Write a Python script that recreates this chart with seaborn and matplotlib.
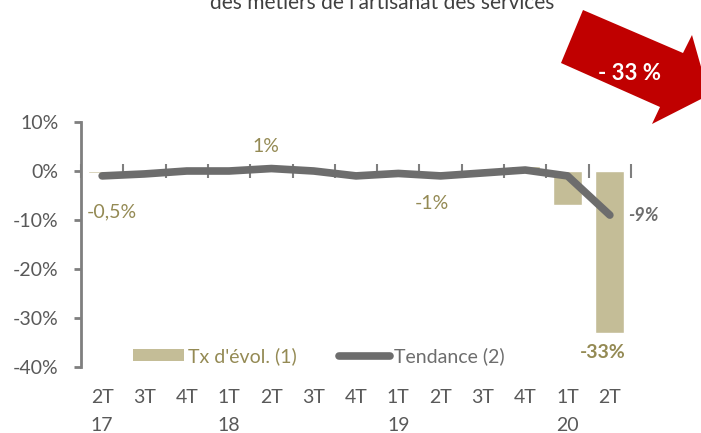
import numpy as np
import pandas as pd
import matplotlib
matplotlib.use("Agg")
import matplotlib.pyplot as plt
import matplotlib.transforms as mtransforms
from matplotlib.patches import Polygon, Patch
from matplotlib.lines import Line2D
import seaborn as sns

# ---- data ----
quarters = ["2T\n17", "3T", "4T", "1T\n18", "2T", "3T", "4T", "1T\n19", "2T", "3T", "4T", "1T\n20", "2T"]
taux_evol = [-0.5, 0.0, 0.0, 0.0, 1.0, 0.0, 0.0, 0.0, -1.0, 0.3, 1.0, -7.0, -33.0]
tendance = [-1.0, -0.6, 0.0, 0.0, 0.5, 0.0, -1.0, -0.5, -1.0, -0.4, 0.2, -1.0, -9.0]
bar_labels = {0: "-0,5%", 4: "1%", 8: "-1%"}
title_line = "des métiers de l'artisanat des services"

# colours
bar_col = "#C4BD97"
lbl_col = "#948A54"
line_col = "#6D6D6D"
tick_col = "#595959"
axis_col = "#7F7F7F"
red = "#C00000"

df = pd.DataFrame({"pos": np.arange(len(quarters)), "q": quarters,
                   "tx": taux_evol, "tend": tendance})

sns.set_style("white")
plt.rcParams["font.family"] = ["Lato", "DejaVu Sans"]

W, H = 701, 433
fig = plt.figure(figsize=(W / 100, H / 100), dpi=100)
ax = fig.add_axes([81 / W, (H - 367) / H, 550 / W, 245 / H])

sns.barplot(data=df, x="pos", y="tx", color=bar_col, saturation=1, width=0.68, ax=ax)
sns.lineplot(data=df, x="pos", y="tend", color=line_col, linewidth=5.5,
             solid_capstyle="round", ax=ax, zorder=5)

ax.set_xlim(-0.5, len(quarters) - 0.5)
ax.set_ylim(-40, 10)
ax.set_yticks(np.arange(-40, 11, 10))
ax.set_yticklabels([f"{v}%" for v in range(-40, 11, 10)], fontsize=14, color=tick_col)
ax.set_xticks(df["pos"])
ax.set_xticklabels(quarters, fontsize=14, color=tick_col, linespacing=1.75, va="top")
ax.tick_params(axis="x", length=0, pad=16)
ax.tick_params(axis="y", left=True, length=5, width=2, color=axis_col, direction="out", pad=11)
ax.set_xlabel("")
ax.set_ylabel("")
for s in ["top", "right", "bottom"]:
    ax.spines[s].set_visible(False)
ax.spines["left"].set_color(axis_col)
ax.spines["left"].set_linewidth(2)

# zero line with category boundary ticks
sec = ax.secondary_xaxis(40 / 50)
sec.set_xticks(np.arange(-0.5, len(quarters), 1.0))
sec.set_xticklabels([])
sec.tick_params(axis="x", bottom=True, direction="out", length=5, width=1.5, color=axis_col)
sec.spines["bottom"].set_color(axis_col)
sec.spines["bottom"].set_linewidth(1.5)
for s in ["top", "left", "right"]:
    sec.spines[s].set_visible(False)

# data labels
offsets = {0: (7, -28), 4: (-4, 14), 8: (-6, -20)}
for i, txt in bar_labels.items():
    ax.annotate(txt, (i, taux_evol[i]), xytext=offsets[i], textcoords="offset points",
                ha="center", va="center", fontsize=14, color=lbl_col)
last = len(quarters) - 1
ax.annotate(f"{taux_evol[last]:.0f}%", (last, taux_evol[last]), xytext=(-5, -14),
            textcoords="offset points", ha="center", va="center", fontsize=14,
            color=lbl_col, fontweight="bold")
ax.annotate(f"{tendance[last]:.0f}%", (last, tendance[last]), xytext=(24, 0),
            textcoords="offset points", ha="center", va="center", fontsize=13,
            color=line_col, fontweight="bold", style="italic")

# legend
handles = [Patch(facecolor=bar_col, edgecolor="none"),
           Line2D([], [], color=line_col, linewidth=5.5, solid_capstyle="round")]
leg = ax.legend(handles, ["Tx d'évol. (1)", "Tendance (2)"], ncol=2, frameon=False,
                loc="center left", bbox_to_anchor=(0.07, 0.045), fontsize=14,
                handlelength=2.6, handleheight=0.55, handletextpad=0.2, columnspacing=2.2,
                borderpad=0.2)
leg.get_texts()[0].set_color(lbl_col)
leg.get_texts()[1].set_color(line_col)

# partially visible title
fig.text(0.545, 1 - 9 / H, title_line, ha="center", va="baseline", fontsize=15, color="#404040")

# red arrow annotation
px = mtransforms.Affine2D().scale(1 / W, -1 / H).translate(0, 1) + fig.transFigure
arrow = Polygon([(583, 10), (683, 53), (692, 35), (709, 95), (652, 124), (660, 107), (561, 63)],
                closed=True, facecolor=red, edgecolor="none", transform=px)
fig.patches.append(arrow)
fig.text(629 / W, 1 - 73 / H, "- 33 %", ha="center", va="center", fontsize=16,
         fontweight="bold", color="white")

fig.savefig("out.png", dpi=100)
